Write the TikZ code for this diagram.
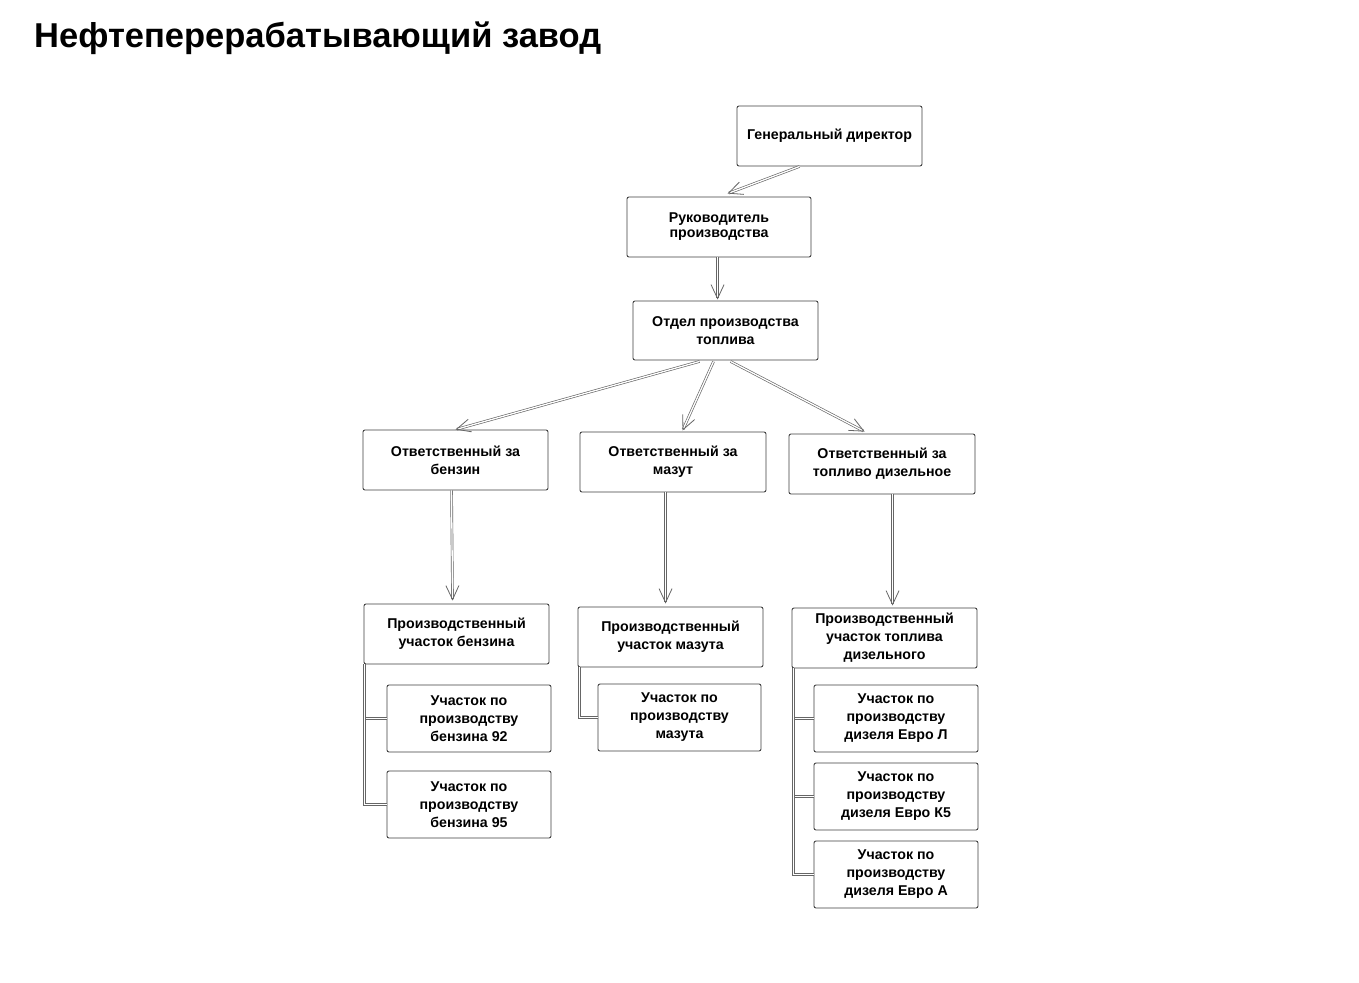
\documentclass[tikz,border=0pt]{standalone}
\usepackage{fontspec}
\setmainfont{Liberation Sans}
\usetikzlibrary{arrows.meta,calc}
\begin{document}
\begin{tikzpicture}[x=1pt,y=-1pt,
  box/.style={draw=black!75,line width=0.9pt,rounded corners=2pt,fill=white,
    align=center,font=\fontsize{14.2}{18}\selectfont\bfseries,inner sep=0pt},
  conn/.style={draw=black!60,double=white,double distance=1.3pt,line width=0.65pt},
  arr/.style={conn,-{Straight Barb[length=14pt,width=13pt,line width=0.8pt]}},
]
\useasboundingbox[fill=white] (0,0) rectangle (1359,982);
\node[anchor=base west,inner sep=0pt,font=\fontsize{34.5}{38}\selectfont\bfseries] (title) at (34,48) {Нефтеперерабатывающий завод};

\newcommand{\mybox}[7][]{% opts, name, x1, y1, x2, y2, text
  \node[box,minimum width={#5-#3},minimum height={#6-#4},#1] (#2) at ({(#3+#5)/2},{(#4+#6)/2}) {#7};}
\mybox{gd}{737}{106}{922}{166}{Генеральный директор}
\mybox[font=\fontsize{14.2}{15}\selectfont\bfseries]{rp}{627}{197}{811}{257}{Руководитель\\производства}
\mybox{opt}{633}{301}{818}{360}{Отдел производства\\топлива}
\mybox{ob}{363}{430}{548}{490}{Ответственный за\\бензин}
\mybox{om}{580}{432}{766}{492}{Ответственный за\\мазут}
\mybox{od}{789}{434}{975}{494}{Ответственный за\\топливо дизельное}
\mybox{pb}{364}{604}{549}{664}{Производственный\\участок бензина}
\mybox{pm}{578}{607}{763}{667}{Производственный\\участок мазута}
\mybox{pd}{792}{608}{977}{668}{Производственный\\участок топлива\\дизельного}
\mybox{b92}{387}{685}{551}{752}{Участок по\\производству\\бензина 92}
\mybox{b95}{387}{771}{551}{838}{Участок по\\производству\\бензина 95}
\mybox{mz}{598}{684}{761}{751}{Участок по\\производству\\мазута}
\mybox{dl}{814}{685}{978}{752}{Участок по\\производству\\дизеля Евро Л}
\mybox{dk}{814}{763}{978}{830}{Участок по\\производству\\дизеля Евро К5}
\mybox{da}{814}{841}{978}{908}{Участок по\\производству\\дизеля Евро А}

\draw[arr] ($(gd.south west)+(63,0)$) -- ($(rp.north west)+(101,-3)$);
\draw[arr] ($(rp.south west)+(91,0)$) -- ($(opt.north west)+(85,-1)$);
\draw[arr] ($(opt.south west)+(67,1)$) -- ($(ob.north west)+(93,0)$);
\draw[arr] ($(opt.south west)+(81,1)$) -- ($(om.north west)+(103,-1)$);
\draw[arr] ($(opt.south west)+(98,1)$) -- ($(od.north west)+(76,-2)$);
\draw[arr] ($(ob.south west)+(89,0)$) -- ($(pb.north west)+(89,-3)$);
\draw[arr] ($(om.south west)+(86,0)$) -- ($(pm.north west)+(88,-3)$);
\draw[arr] ($(od.south west)+(104,0)$) -- ($(pd.north west)+(101,-2)$);

\draw[conn] ($(pb.south west)+(1,0)$) |- (b92.west);
\draw[conn] ($(pb.south west)+(1,0)$) |- (b95.west);
\draw[conn] ($(pm.south west)+(2,0)$) |- (mz.west);
\draw[conn] ($(pd.south west)+(2,0)$) |- (dl.west);
\draw[conn] ($(pd.south west)+(2,0)$) |- (dk.west);
\draw[conn] ($(pd.south west)+(2,0)$) |- (da.west);
\end{tikzpicture}
\end{document}
